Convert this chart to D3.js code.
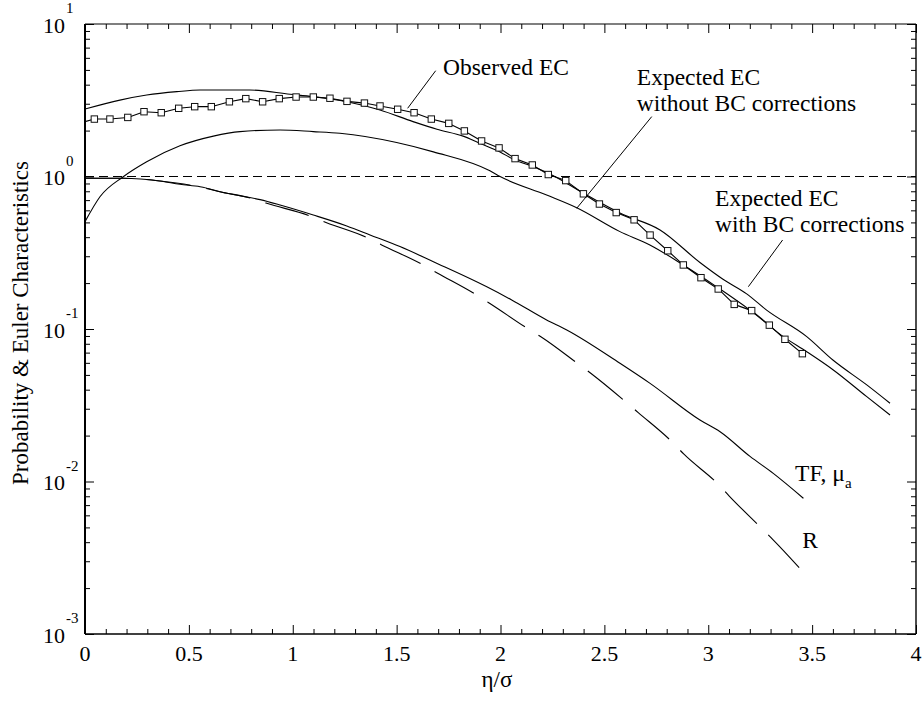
<!DOCTYPE html>
<html>
<head>
<meta charset="utf-8">
<script src="https://cdn.jsdelivr.net/npm/d3@7"></script>
<style>
  html, body { margin: 0; padding: 0; background: #fff; }
  svg { display: block; }
  text { font-family: "Liberation Serif", "Times New Roman", serif; fill: #000; }
</style>
</head>
<body>
<svg id="chart" width="924" height="704"></svg>
<script>
// ---- data -------------------------------------------------------------
// Observed Euler characteristic (squares); first point carries the line to the axis
const obsX  = [0, 0.045, 0.120, 0.206, 0.284, 0.367, 0.451, 0.528, 0.608, 0.695, 0.774, 0.855, 0.935, 1.016, 1.099, 1.179, 1.261, 1.345, 1.420, 1.505, 1.584, 1.667, 1.751, 1.826, 1.909, 1.993, 2.070, 2.153, 2.230, 2.314, 2.399, 2.476, 2.557, 2.643, 2.720, 2.805, 2.880, 2.965, 3.048, 3.125, 3.209, 3.294, 3.369, 3.453];
const obsEC = [2.29, 2.38, 2.38, 2.44, 2.66, 2.62, 2.80, 2.87, 2.87, 3.09, 3.24, 3.09, 3.24, 3.32, 3.32, 3.26, 3.11, 3.03, 2.90, 2.76, 2.62, 2.38, 2.23, 1.99, 1.71, 1.54, 1.31, 1.19, 1.03, 0.94, 0.77, 0.66, 0.58, 0.52, 0.413, 0.326, 0.263, 0.217, 0.183, 0.145, 0.132, 0.106, 0.0856, 0.0689];

// Expected EC with boundary-condition corrections
const withX  = [0, 0.168, 0.297, 0.442, 0.554, 0.794, 0.987, 1.097, 1.261, 1.420, 1.579, 1.694, 1.820, 1.901, 1.998, 2.060, 2.156, 2.238, 2.397, 2.575, 2.768, 2.960, 3.071, 3.185, 3.281, 3.474, 3.600, 3.763, 3.875];
const withEC = [2.77, 3.17, 3.42, 3.60, 3.69, 3.69, 3.46, 3.34, 3.09, 2.73, 2.29, 2.04, 1.84, 1.65, 1.45, 1.30, 1.16, 1.04, 0.78, 0.576, 0.446, 0.273, 0.212, 0.170, 0.133, 0.0891, 0.0626, 0.0430, 0.0326];

// Expected EC without boundary-condition corrections
const woX  = [0, 0.072, 0.184, 0.297, 0.457, 0.618, 0.746, 0.939, 1.099, 1.227, 1.500, 1.677, 1.949, 1.998, 2.222, 2.367, 2.575, 2.719, 2.880, 3.041, 3.201, 3.361, 3.474, 3.602, 3.763, 3.875];
const woEC = [0.505, 0.737, 0.997, 1.25, 1.59, 1.84, 1.97, 2.02, 1.97, 1.92, 1.67, 1.45, 1.09, 1.00, 0.756, 0.624, 0.435, 0.356, 0.263, 0.189, 0.133, 0.0891, 0.0710, 0.0539, 0.0360, 0.0273];

// TF, mu_a probability
const tfX = [0, 0.184, 0.361, 0.457, 0.554, 0.682, 0.843, 0.939, 1.099, 1.260, 1.372, 1.516, 1.677, 1.934, 2.054, 2.222, 2.319, 2.575, 2.720, 2.960, 3.057, 3.201, 3.313, 3.458];
const tfP = [0.973, 0.973, 0.934, 0.889, 0.857, 0.776, 0.705, 0.650, 0.559, 0.474, 0.414, 0.347, 0.276, 0.189, 0.155, 0.1146, 0.0985, 0.0596, 0.0440, 0.0253, 0.0212, 0.0146, 0.0113, 0.00776];

// R probability (long dashes)
const rX = [0, 0.184, 0.361, 0.554, 0.650, 0.802, 0.875, 1.083, 1.163, 1.364, 1.428, 1.628, 1.693, 1.885, 1.949, 2.134, 2.198, 2.374, 2.439, 2.607, 2.663, 2.829, 2.883, 3.048, 3.101, 3.257, 3.310, 3.458];
const rP = [0.973, 0.973, 0.934, 0.853, 0.795, 0.719, 0.667, 0.551, 0.498, 0.394, 0.356, 0.263, 0.234, 0.167, 0.147, 0.100, 0.0883, 0.0590, 0.0507, 0.0329, 0.0283, 0.0180, 0.0151, 0.00959, 0.00803, 0.00493, 0.00418, 0.00254];

// Axis ticks
const xMajor = [0, 0.5, 1, 1.5, 2, 2.5, 3, 3.5, 4];
const xMajorLabels = ["0", "0.5", "1", "1.5", "2", "2.5", "3", "3.5", "4"];
const yExponents = [-3, -2, -1, 0, 1];
const refLevel = 1;

// Annotations: text lines with their anchor (data units) and leader lines
const labelLines = [
  { text: "Observed EC",        x: 1.723, y: 4.63 },
  { text: "Expected EC",        x: 2.656, y: 3.98 },
  { text: "without BC corrections", x: 2.656, y: 2.70 },
  { text: "Expected EC",        x: 3.033, y: 0.6436 },
  { text: "with BC corrections", x: 3.033, y: 0.4345 },
  { text: "R",                  x: 3.453, y: 0.00365 }
];
const leaders = [
  { x1: 1.688, y1: 4.94,  x2: 1.553, y2: 2.80 },
  { x1: 2.728, y1: 2.47,  x2: 2.367, y2: 0.619 },
  { x1: 3.358, y1: 0.3834, x2: 3.193, y2: 0.1894 }
];
const tfLabel = { x: 3.418, y: 0.0101 };

// ---- layout -----------------------------------------------------------
const svg = d3.select("#chart");
const mLeft = 85, mRight = 916, mTop = 24, mBottom = 634;

const x = d3.scaleLinear().domain([0, 4]).range([mLeft, mRight]);
const y = d3.scaleLog().domain([1e-3, 1e1]).range([mBottom, mTop]);

svg.append("rect").attr("width", 924).attr("height", 704).attr("fill", "#fff");

const defs = svg.append("defs");
defs.append("clipPath").attr("id", "plotClip")
  .append("rect").attr("x", mLeft).attr("y", mTop)
  .attr("width", mRight - mLeft).attr("height", mBottom - mTop);

const plot = svg.append("g").attr("clip-path", "url(#plotClip)");

// reference level at 1
plot.append("line")
  .attr("x1", x(0)).attr("x2", x(4))
  .attr("y1", y(refLevel)).attr("y2", y(refLevel))
  .attr("stroke", "#000").attr("stroke-width", 1.1)
  .attr("stroke-dasharray", "9,5");

const zip = (xs, ys) => xs.map((v, i) => [v, ys[i]]);
const smooth = d3.line().x(d => x(d[0])).y(d => y(d[1])).curve(d3.curveMonotoneX);
const straight = d3.line().x(d => x(d[0])).y(d => y(d[1]));

function drawCurve(pts, gen, dash) {
  const p = plot.append("path")
    .attr("d", gen(pts))
    .attr("fill", "none")
    .attr("stroke", "#000")
    .attr("stroke-width", 1.1)
    .attr("stroke-linejoin", "round");
  if (dash) p.attr("stroke-dasharray", dash);
  return p;
}

drawCurve(zip(withX, withEC), smooth);
drawCurve(zip(woX, woEC), smooth);
drawCurve(zip(tfX, tfP), smooth);
drawCurve(zip(rX, rP), smooth, "45,16");
drawCurve(zip(obsX, obsEC), straight);

// observed markers (skip the leading axis point)
const obsPts = zip(obsX, obsEC).slice(1);
plot.selectAll("rect.obs").data(obsPts).enter().append("rect")
  .attr("class", "obs")
  .attr("x", d => x(d[0]) - 3.2).attr("y", d => y(d[1]) - 3.2)
  .attr("width", 6.4).attr("height", 6.4)
  .attr("fill", "#fff").attr("stroke", "#111").attr("stroke-width", 1);

// ---- axes (inward ticks on all four sides) ----------------------------
const xMinor = d3.range(0, 41).map(i => i / 10).filter(v => Math.abs(v * 2 - Math.round(v * 2)) > 1e-6);
const yMinor = [];
yExponents.slice(0, -1).forEach(e => { for (let m = 2; m <= 9; m++) yMinor.push(m * Math.pow(10, e)); });

function addAxis(gen, transform) {
  const g = svg.append("g").attr("transform", transform).call(gen);
  g.selectAll("text").remove();
  g.select(".domain").remove();
  g.selectAll("line").attr("stroke", "#000").attr("stroke-width", 1);
  return g;
}
addAxis(d3.axisBottom(x).tickValues(xMajor).tickSize(-9), `translate(0,${mBottom})`);
addAxis(d3.axisBottom(x).tickValues(xMinor).tickSize(-5), `translate(0,${mBottom})`);
addAxis(d3.axisTop(x).tickValues(xMajor).tickSize(-9), `translate(0,${mTop})`);
addAxis(d3.axisTop(x).tickValues(xMinor).tickSize(-5), `translate(0,${mTop})`);
const yMajorVals = yExponents.map(e => Math.pow(10, e));
addAxis(d3.axisLeft(y).tickValues(yMajorVals).tickSize(-9), `translate(${mLeft},0)`);
addAxis(d3.axisLeft(y).tickValues(yMinor).tickSize(-5), `translate(${mLeft},0)`);
addAxis(d3.axisRight(y).tickValues(yMajorVals).tickSize(-9), `translate(${mRight},0)`);
addAxis(d3.axisRight(y).tickValues(yMinor).tickSize(-5), `translate(${mRight},0)`);

// frame
svg.append("line").attr("x1", mLeft).attr("x2", mRight).attr("y1", mBottom).attr("y2", mBottom)
  .attr("stroke", "#000").attr("stroke-width", 1.4);
svg.append("line").attr("x1", mLeft).attr("x2", mRight).attr("y1", mTop).attr("y2", mTop)
  .attr("stroke", "#000").attr("stroke-width", 1.2);
svg.append("line").attr("x1", mLeft).attr("x2", mLeft).attr("y1", mTop).attr("y2", mBottom)
  .attr("stroke", "#000").attr("stroke-width", 2);
svg.append("line").attr("x1", mRight).attr("x2", mRight).attr("y1", mTop).attr("y2", mBottom)
  .attr("stroke", "#000").attr("stroke-width", 1.4);

// x tick labels
svg.append("g").selectAll("text").data(xMajor).enter().append("text")
  .attr("x", d => x(d)).attr("y", mBottom + 27)
  .attr("text-anchor", "middle").attr("font-size", 22)
  .text((d, i) => xMajorLabels[i]);

// y tick labels: 10 with superscript exponent
const yl = svg.append("g");
yExponents.forEach(e => {
  const yy = y(Math.pow(10, e));
  yl.append("text").attr("x", 65).attr("y", yy + 8.5)
    .attr("text-anchor", "end").attr("font-size", 22).text("10");
  yl.append("text").attr("x", 66).attr("y", yy - 11)
    .attr("font-size", 15).text(String(e));
});

// axis titles
svg.append("text")
  .attr("transform", "translate(28,323) rotate(-90)")
  .attr("text-anchor", "middle").attr("font-size", 23)
  .text("Probability & Euler Characteristics");
svg.append("text")
  .attr("x", 497).attr("y", 687)
  .attr("text-anchor", "middle").attr("font-size", 23)
  .text("η/σ");

// annotations
const ann = svg.append("g");
ann.selectAll("line").data(leaders).enter().append("line")
  .attr("x1", d => x(d.x1)).attr("y1", d => y(d.y1))
  .attr("x2", d => x(d.x2)).attr("y2", d => y(d.y2))
  .attr("stroke", "#000").attr("stroke-width", 1);
ann.selectAll("text.lbl").data(labelLines).enter().append("text")
  .attr("class", "lbl")
  .attr("x", d => x(d.x)).attr("y", d => y(d.y))
  .attr("font-size", 23.5)
  .text(d => d.text);
const tf = ann.append("text")
  .attr("x", x(tfLabel.x)).attr("y", y(tfLabel.y))
  .attr("font-size", 23.5);
tf.append("tspan").text("TF, μ");
tf.append("tspan").attr("font-size", 15).attr("dy", 7.5).text("a");
</script>
</body>
</html>
